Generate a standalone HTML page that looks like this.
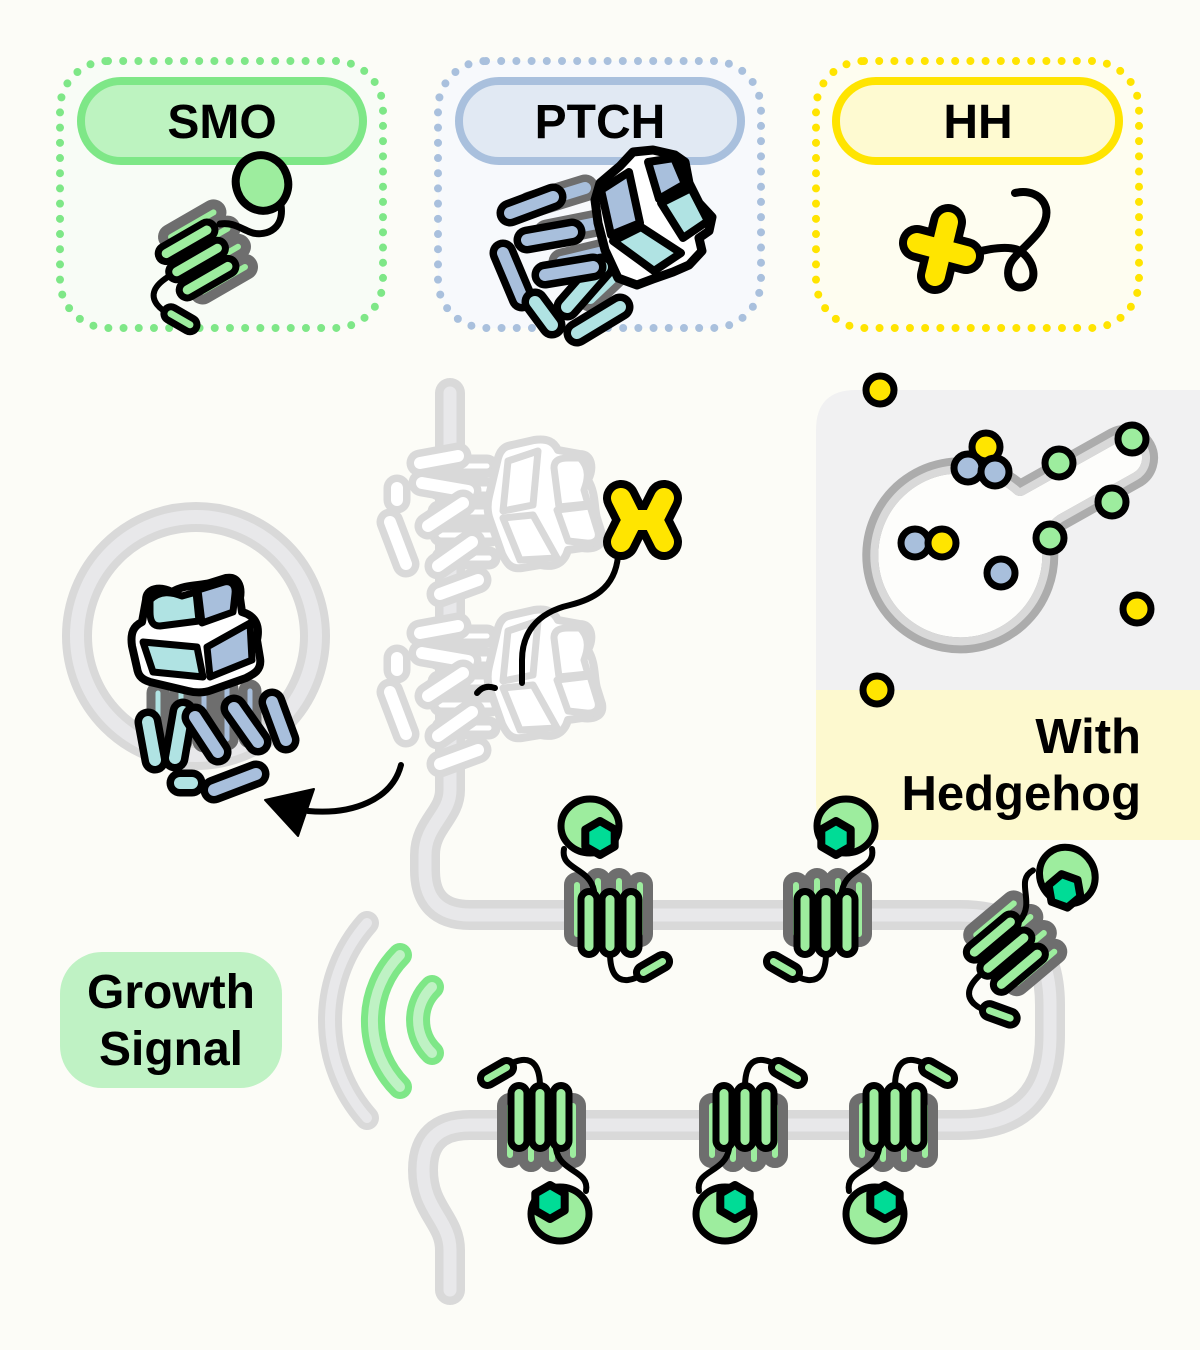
<!DOCTYPE html>
<html><head><meta charset="utf-8"><style>
html,body{margin:0;padding:0;background:#fcfcf7;}
svg{display:block;}
</style></head><body>
<svg width="1200" height="1350" viewBox="0 0 1200 1350" xmlns="http://www.w3.org/2000/svg" font-family="'Liberation Sans', Arial, sans-serif" font-weight="700">
<defs>
  <g id="sB" fill="#9ded9e" stroke="#6e6e6e" stroke-width="10">
    <rect x="-41" y="-38" width="16" height="65" rx="8"/>
    <rect x="-20" y="-42" width="16" height="69" rx="8"/>
    <rect x="1" y="-42" width="16" height="69" rx="8"/>
    <rect x="22" y="-38" width="16" height="65" rx="8"/>
  </g>
  <path id="sL" d="M-46,-66 C-50,-45 -20,-48 -16,-24" fill="none" stroke="#000" stroke-width="6" stroke-linecap="round"/>
  <g id="sF">
    <path d="M0,38 C0,60 8,66 18,65 C25,64 29,62 33,58" fill="none" stroke="#000" stroke-width="6" stroke-linecap="round"/>
    <g fill="#9ded9e" stroke="#000" stroke-width="7">
      <rect x="-29" y="-23.5" width="16" height="63" rx="8"/>
      <rect x="-8" y="-23.5" width="16" height="63" rx="8"/>
      <rect x="13" y="-23.5" width="16" height="63" rx="8"/>
      <rect x="-18" y="-7" width="36" height="14" rx="7" transform="translate(43,52) rotate(-30)"/>
    </g>
  </g>
  <g id="sH">
    <ellipse cx="-20" cy="-89" rx="29" ry="27" fill="#9ded9e" stroke="#000" stroke-width="7"/>
    <polygon points="-10,-94 4.7,-85.5 4.7,-68.5 -10,-60 -24.7,-68.5 -24.7,-85.5" fill="#00dc96" stroke="#000" stroke-width="8" stroke-linejoin="round"/>
  </g>
  <g id="smo"><use href="#sB"/><use href="#sL"/><use href="#sF"/><use href="#sH"/></g>

  <g id="pt" stroke-linecap="round" stroke-linejoin="round">
    <g stroke-width="9" style="stroke:var(--g,#6e6e6e)">
      <rect x="-54" y="-4" width="14" height="62" rx="7" style="fill:var(--t,#b0e3e3)"/>
      <rect x="-31" y="-6" width="14" height="64" rx="7" style="fill:var(--t,#b0e3e3)"/>
      <rect x="-8" y="-8" width="14" height="66" rx="7" style="fill:var(--b,#a8bfdc)"/>
      <rect x="15" y="-8" width="14" height="64" rx="7" style="fill:var(--b,#a8bfdc)"/>
      <rect x="38" y="-6" width="14" height="60" rx="7" style="fill:var(--b,#a8bfdc)"/>
    </g>
    <path d="M-59,-90 C-59,-102 -45,-104 -33,-98 C-20,-106 -5,-104 5,-107 L21,-112 C33,-114 37,-104 35,-92 L37,-78 C51,-74 55,-64 52,-50 L55,-32 C57,-20 49,-16 41,-12 L7,0 C-1,3 -9,3 -17,1 L-55,-8 C-65,-11 -67,-16 -68,-22 L-73,-44 C-75,-58 -71,-64 -63,-68 Z" stroke-width="8" style="fill:var(--w,#fff);stroke:var(--k,#000)"/>
    <g stroke-width="7">
      <path d="M-55,-90 C-45,-100 -33,-98 -23,-94 L-9,-98 L-6,-69 L-45,-64 C-53,-64 -55,-70 -55,-78 Z" style="fill:var(--t,#b0e3e3);stroke:var(--k,#000)"/>
      <path d="M-7,-100 L19,-108 C27,-110 31,-104 30,-96 L28,-78 L-3,-67 Z" style="fill:var(--b,#a8bfdc);stroke:var(--k,#000)"/>
      <path d="M-62,-48 L-8,-43 L-2,-13 L-52,-18 Z" style="fill:var(--t,#b0e3e3);stroke:var(--k,#000)"/>
      <path d="M2,-43 L45,-67 L47,-30 L5,-13 Z" style="fill:var(--b,#a8bfdc);stroke:var(--k,#000)"/>
    </g>
    <line x1="-25" y1="93" x2="-13" y2="93" stroke-width="27" style="stroke:var(--k,#000)"/>
    <line x1="-25" y1="93" x2="-13" y2="93" stroke-width="12" style="stroke:var(--t,#b0e3e3)"/>
    <line x1="9" y1="100" x2="51" y2="84" stroke-width="27" style="stroke:var(--k,#000)"/>
    <line x1="9" y1="100" x2="51" y2="84" stroke-width="12" style="stroke:var(--b,#a8bfdc)"/>
    <line x1="-22" y1="22" x2="-30" y2="68" stroke-width="27" style="stroke:var(--k,#000)"/>
    <line x1="-22" y1="22" x2="-30" y2="68" stroke-width="12" style="stroke:var(--t,#b0e3e3)"/>
    <line x1="-57" y1="32" x2="-50" y2="70" stroke-width="27" style="stroke:var(--k,#000)"/>
    <line x1="-57" y1="32" x2="-50" y2="70" stroke-width="12" style="stroke:var(--t,#b0e3e3)"/>
    <line x1="-10" y1="27" x2="13" y2="62" stroke-width="27" style="stroke:var(--k,#000)"/>
    <line x1="-10" y1="27" x2="13" y2="62" stroke-width="12" style="stroke:var(--b,#a8bfdc)"/>
    <line x1="29" y1="18" x2="53" y2="52" stroke-width="27" style="stroke:var(--k,#000)"/>
    <line x1="29" y1="18" x2="53" y2="52" stroke-width="12" style="stroke:var(--b,#a8bfdc)"/>
    <line x1="67" y1="12" x2="81" y2="50" stroke-width="27" style="stroke:var(--k,#000)"/>
    <line x1="67" y1="12" x2="81" y2="50" stroke-width="12" style="stroke:var(--b,#a8bfdc)"/>
  </g>

  <path id="pear" d="M1020,488 L1113,436 A25 25 0 0 1 1137,480 L1062,522 Q1050,530 1050,548 A90 90 0 1 1 1020,488 Z"/>
  <clipPath id="pearClip"><use href="#pear"/></clipPath>
</defs>

<rect width="1200" height="1350" fill="#fcfcf7"/>

<!-- Top boxes -->
<rect x="60" y="61" width="323" height="267" rx="48" fill="#f8fcf6" stroke="#7ee787" stroke-width="8" stroke-dasharray="0 15.2" stroke-linecap="round"/>
<rect x="81" y="81" width="282" height="80" rx="40" fill="#bdf3c0" stroke="#7ee787" stroke-width="8"/>
<text x="222" y="138" font-size="48" text-anchor="middle" fill="#000">SMO</text>

<rect x="438" y="61" width="323" height="267" rx="48" fill="#f7f9fc" stroke="#a9c0dd" stroke-width="8" stroke-dasharray="0 15.2" stroke-linecap="round"/>
<rect x="459" y="81" width="282" height="80" rx="40" fill="#e1e9f3" stroke="#a9c0dd" stroke-width="8"/>
<text x="600" y="138" font-size="48" text-anchor="middle" fill="#000">PTCH</text>

<rect x="816" y="61" width="323" height="267" rx="48" fill="#fefdf0" stroke="#ffe400" stroke-width="8" stroke-dasharray="0 15.2" stroke-linecap="round"/>
<rect x="836" y="81" width="283" height="80" rx="40" fill="#fefad1" stroke="#ffe400" stroke-width="8"/>
<text x="978" y="138" font-size="48" text-anchor="middle" fill="#000">HH</text>

<!-- SMO icon -->
<g transform="translate(204,256) rotate(60)"><use href="#sB"/></g>
<path d="M281,205 C285,232 262,237 250,232 C240,228 232,222 220,224" fill="none" stroke="#000" stroke-width="7" stroke-linecap="round"/>
<g transform="translate(204,256) rotate(60)"><use href="#sF"/></g>
<ellipse cx="262" cy="183" rx="26" ry="28" transform="rotate(-20 262 183)" fill="#9ded9e" stroke="#000" stroke-width="8"/>

<!-- PTCH icon (custom) -->
<g stroke-linecap="round" stroke-linejoin="round" fill="none">
  <line x1="530" y1="205" x2="585" y2="188" stroke="#6e6e6e" stroke-width="27"/>
  <line x1="530" y1="205" x2="585" y2="188" stroke="#a8bfdc" stroke-width="12"/>
  <line x1="547" y1="233" x2="602" y2="222" stroke="#6e6e6e" stroke-width="27"/>
  <line x1="547" y1="233" x2="602" y2="222" stroke="#a8bfdc" stroke-width="12"/>
  <line x1="562" y1="262" x2="612" y2="250" stroke="#6e6e6e" stroke-width="27"/>
  <line x1="562" y1="262" x2="612" y2="250" stroke="#a8bfdc" stroke-width="12"/>
  <line x1="590" y1="298" x2="628" y2="262" stroke="#6e6e6e" stroke-width="27"/>
  <line x1="590" y1="298" x2="628" y2="262" stroke="#b0e3e3" stroke-width="12"/>
  <!-- ECD -->
  <polygon points="600,183 620,166 633,152 653,150 675,155 685,162 689,183 699,203 712,217 709,231 699,238 702,251 689,265 673,272 653,279 637,285 618,278 605,250 598,223 595,200" fill="#fff" stroke="#000" stroke-width="9"/>
  <polygon points="601,190 629,172 640,223 611,235" fill="#a8bfdc" stroke="#000" stroke-width="8"/>
  <polygon points="648,162 674,158 685,184 659,199" fill="#a8bfdc" stroke="#000" stroke-width="8"/>
  <polygon points="661,203 691,188 708,221 683,238" fill="#b0e3e3" stroke="#000" stroke-width="8"/>
  <polygon points="613,241 641,227 681,253 654,271" fill="#b0e3e3" stroke="#000" stroke-width="8"/>
  <!-- front capsules -->
  <line x1="503" y1="253" x2="522" y2="298" stroke="#000" stroke-width="27"/>
  <line x1="503" y1="253" x2="522" y2="298" stroke="#a8bfdc" stroke-width="12"/>
  <line x1="510" y1="213" x2="553" y2="197" stroke="#000" stroke-width="27"/>
  <line x1="510" y1="213" x2="553" y2="197" stroke="#a8bfdc" stroke-width="12"/>
  <line x1="527" y1="240" x2="572" y2="232" stroke="#000" stroke-width="27"/>
  <line x1="527" y1="240" x2="572" y2="232" stroke="#a8bfdc" stroke-width="12"/>
  <line x1="535" y1="302" x2="552" y2="325" stroke="#000" stroke-width="27"/>
  <line x1="535" y1="302" x2="552" y2="325" stroke="#b0e3e3" stroke-width="12"/>
  <line x1="567" y1="307" x2="602" y2="267" stroke="#000" stroke-width="27"/>
  <line x1="567" y1="307" x2="602" y2="267" stroke="#b0e3e3" stroke-width="12"/>
  <line x1="545" y1="275" x2="593" y2="267" stroke="#000" stroke-width="27"/>
  <line x1="545" y1="275" x2="593" y2="267" stroke="#a8bfdc" stroke-width="12"/>
  <line x1="577" y1="333" x2="620" y2="307" stroke="#000" stroke-width="27"/>
  <line x1="577" y1="333" x2="620" y2="307" stroke="#b0e3e3" stroke-width="12"/>
</g>

<!-- HH icon -->
<path d="M970,254 C990,248 1008,246 1018,250 C1034,258 1040,282 1024,287 C1008,291 1003,270 1014,258 C1028,242 1050,228 1046,208 C1042,194 1028,190 1015,193" fill="none" stroke="#000" stroke-width="8" stroke-linecap="round"/>
<path d="M948,222 L935,276 M917,243 L966,256" fill="none" stroke="#000" stroke-width="36" stroke-linecap="round"/>
<path d="M948,222 L935,276 M917,243 L966,256" fill="none" stroke="#ffe500" stroke-width="20" stroke-linecap="round"/>

<!-- Right panel -->
<path d="M816,430 Q816,390 856,390 H1200 V690 H816 Z" fill="#f1f1f2"/>
<path d="M816,690 H1200 V840 H856 Q816,840 816,800 Z" fill="#fdf9cf"/>
<text x="1141" y="753" font-size="49" text-anchor="end" fill="#000">With</text>
<text x="1141" y="810" font-size="49" text-anchor="end" fill="#000">Hedgehog</text>

<!-- Membrane -->
<g fill="none" stroke-linecap="round" stroke-linejoin="round">
  <path d="M450,393 V790 C450,815 425,825 425,855 V870 Q425,915 470,915 H960 Q1050,915 1050,1005 V1035 Q1050,1125 960,1125 H470 Q423,1125 423,1170 C423,1210 450,1220 450,1250 V1290" stroke="#d9d9d9" stroke-width="30"/>
  <path d="M450,393 V790 C450,815 425,825 425,855 V870 Q425,915 470,915 H960 Q1050,915 1050,1005 V1035 Q1050,1125 960,1125 H470 Q423,1125 423,1170 C423,1210 450,1220 450,1250 V1290" stroke="#e8e8ea" stroke-width="13"/>
</g>

<!-- Left ring -->
<circle cx="196" cy="636" r="119" fill="none" stroke="#d9d9d9" stroke-width="30"/>
<circle cx="196" cy="636" r="119" fill="none" stroke="#e8e8ea" stroke-width="14"/>

<!-- Ghost PTCHs -->
<use href="#pt" transform="translate(490,513) rotate(90)" style="--k:#d9d9d9;--g:#d9d9d9;--t:#ffffff;--b:#ffffff;--w:#ffffff"/>
<use href="#pt" transform="translate(490,683) rotate(90)" style="--k:#d9d9d9;--g:#d9d9d9;--t:#ffffff;--b:#ffffff;--w:#ffffff"/>

<!-- HH ligand with tail -->
<path d="M618,556 C615,590 590,600 570,605 C535,613 522,635 522,660 L522,683" fill="none" stroke="#000" stroke-width="6" stroke-linecap="round"/>
<path d="M477,693 Q484,684 495,688" fill="none" stroke="#000" stroke-width="6" stroke-linecap="round"/>
<path d="M621,498 L632,520 L621,542 M664,498 L653,520 L664,542 M632,520 L653,520" fill="none" stroke="#000" stroke-width="36" stroke-linecap="round" stroke-linejoin="round"/>
<path d="M621,498 L632,520 L621,542 M664,498 L653,520 L664,542 M632,520 L653,520" fill="none" stroke="#ffe500" stroke-width="20" stroke-linecap="round" stroke-linejoin="round"/>

<!-- Ring PTCH -->
<use href="#pt" transform="translate(205,690)"/>

<!-- Arrow -->
<path d="M401,765 C392,800 352,815 308,811" fill="none" stroke="#000" stroke-width="6" stroke-linecap="round"/>
<polygon points="265,800 314,789 298,836" fill="#000" stroke="#000" stroke-width="2" stroke-linejoin="round"/>

<!-- SMOs -->
<use href="#smo" transform="translate(610,915)"/>
<use href="#smo" transform="translate(826,915) scale(-1,1)"/>
<use href="#smo" transform="translate(1012,948) rotate(50)"/>
<use href="#smo" transform="translate(540,1125) rotate(180)"/>
<use href="#smo" transform="translate(745,1125) scale(1,-1)"/>
<use href="#smo" transform="translate(895,1125) scale(1,-1)"/>

<!-- Growth signal -->
<rect x="60" y="952" width="222" height="136" rx="42" fill="#bff2c4"/>
<text x="171" y="1008" font-size="48" text-anchor="middle" fill="#000">Growth</text>
<text x="171" y="1065" font-size="48" text-anchor="middle" fill="#000">Signal</text>
<g fill="none" stroke-linecap="round">
  <path d="M367,923 A147 147 0 0 0 367,1118" stroke="#d9d9d9" stroke-width="24"/>
  <path d="M367,923 A147 147 0 0 0 367,1118" stroke="#e8e8ea" stroke-width="10"/>
  <path d="M400,955 A94 94 0 0 0 400,1087" stroke="#7ee787" stroke-width="24"/>
  <path d="M400,955 A94 94 0 0 0 400,1087" stroke="#bff2c4" stroke-width="10"/>
  <path d="M432,987 A46 46 0 0 0 432,1053" stroke="#7ee787" stroke-width="24"/>
  <path d="M432,987 A46 46 0 0 0 432,1053" stroke="#bff2c4" stroke-width="10"/>
</g>

<!-- Pear-shaped vesicle -->
<use href="#pear" fill="#fdfdfb" stroke="#acacac" stroke-width="16" stroke-linejoin="round"/>
<use href="#pear" fill="none" stroke="#d9d9d9" stroke-width="16" stroke-linejoin="round" clip-path="url(#pearClip)"/>

<!-- Dots -->
<g stroke="#000" stroke-width="7">
  <circle cx="880" cy="390" r="14" fill="#ffe500"/>
  <circle cx="986" cy="447" r="14" fill="#ffe500"/>
  <circle cx="968" cy="468" r="14" fill="#a8bfdc"/>
  <circle cx="995" cy="472" r="14" fill="#a8bfdc"/>
  <circle cx="1059" cy="463" r="14" fill="#9ded9e"/>
  <circle cx="1132" cy="439" r="14" fill="#9ded9e"/>
  <circle cx="1112" cy="502" r="14" fill="#9ded9e"/>
  <circle cx="1050" cy="538" r="14" fill="#9ded9e"/>
  <circle cx="915" cy="543" r="14" fill="#a8bfdc"/>
  <circle cx="942" cy="543" r="14" fill="#ffe500"/>
  <circle cx="1001" cy="573" r="14" fill="#a8bfdc"/>
  <circle cx="1137" cy="609" r="14" fill="#ffe500"/>
  <circle cx="877" cy="690" r="14" fill="#ffe500"/>
</g>
</svg>
</body></html>
